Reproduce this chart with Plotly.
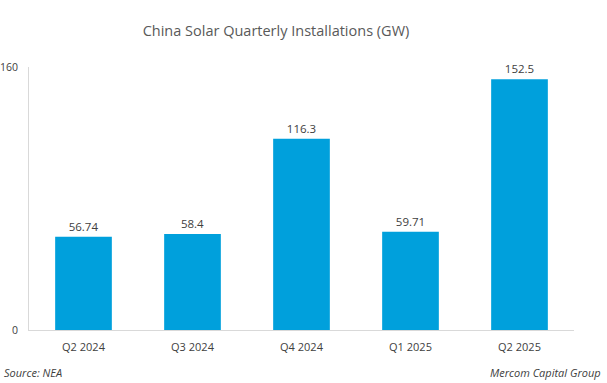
import plotly.graph_objects as go

quarters = ["Q2 2024", "Q3 2024", "Q4 2024", "Q1 2025", "Q2 2025"]
installs_gw = [56.74, 58.4, 116.3, 59.71, 152.5]
value_labels = ["56.74", "58.4", "116.3", "59.71", "152.5"]
y_ticks = [0, 160]

FONT = "Open Sans, DejaVu Sans, sans-serif"

fig = go.Figure(go.Bar(
    x=quarters, y=installs_gw,
    text=value_labels, textposition="outside",
    textfont=dict(family=FONT, size=11.5, color="#404040"),
    marker=dict(color="#00a0dc", line=dict(width=0)),
    cliponaxis=False,
    width=0.52,
))

fig.update_layout(
    width=607, height=383,
    margin=dict(l=29, r=33, t=67, b=53, autoexpand=False),
    paper_bgcolor="white", plot_bgcolor="white",
    showlegend=False,
    title=dict(text="China Solar Quarterly Installations (GW)", x=(276-29)/545, xanchor="center",
               xref="paper", y=1 - 31/383, yanchor="middle",
               font=dict(family=FONT, size=14.5, color="#595959")),
    font=dict(family=FONT, size=11, color="#595959"),
)
fig.update_xaxes(showline=True, linecolor="#d9d9d9", linewidth=1, ticks="", showgrid=False,
                 automargin=False, ticklabelstandoff=7,
                 tickfont=dict(family=FONT, size=11, color="#404040"))
fig.update_yaxes(range=[0, 160], tickvals=y_ticks, showline=True, linecolor="#d9d9d9", linewidth=1,
                 showgrid=False, zeroline=False, ticks="", ticklabelstandoff=8, automargin=False,
                 tickfont=dict(family=FONT, size=10.5, color="#404040"))

fig.add_annotation(text="<i>Source: NEA</i>", xref="paper", yref="paper", x=-27/545, y=-42/263,
                   xanchor="left", yanchor="middle", showarrow=False,
                   font=dict(family=FONT, size=11, color="#404040"))
fig.add_annotation(text="<i>Mercom Capital Group</i>", xref="paper", yref="paper", x=(603-29)/545, y=-42/263,
                   xanchor="right", yanchor="middle", showarrow=False,
                   font=dict(family=FONT, size=11, color="#404040"))

fig.write_html("out.html", config={"displayModeBar": False},
               post_script="document.body.style.margin='0';document.body.style.padding='0';")
